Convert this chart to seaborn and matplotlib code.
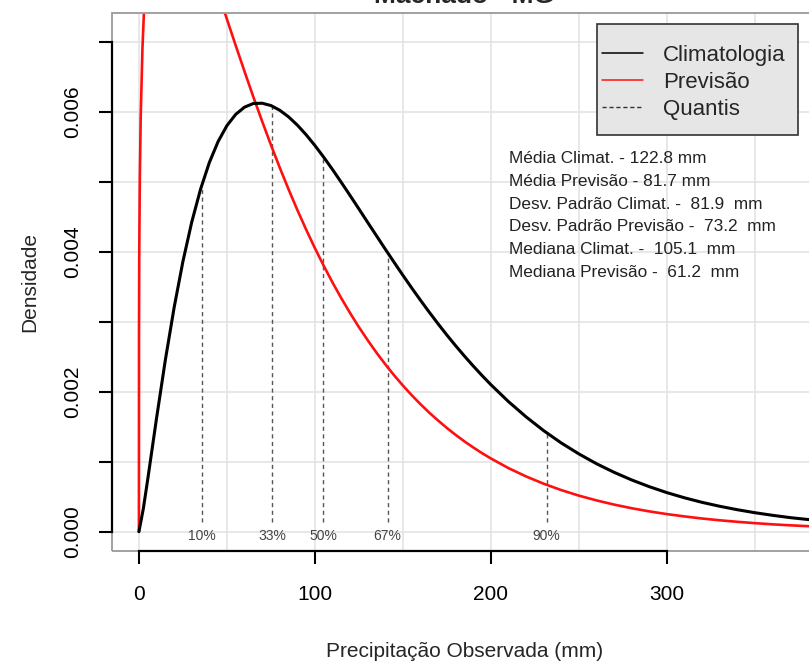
import pandas as pd
import seaborn as sns
import matplotlib.pyplot as plt
from matplotlib.lines import Line2D
from matplotlib.patches import Rectangle

# --- DADOS ---
titulo = "Machado - MG"

# Climatologia (curva preta)
x_clim = [0, 2.5, 5, 10, 15, 20, 25, 30, 35, 40, 45, 50, 55, 60, 65, 70, 75, 80, 85, 90, 95,
          100, 105, 110, 115, 120, 125, 130, 135, 140, 145, 150, 155, 160, 165, 170, 175,
          180, 185, 190, 195, 200, 210, 220, 230, 240, 250, 260, 270, 280, 290, 300,
          310, 320, 330, 340, 350, 360, 370, 385]
dens_clim = [0.0, 0.000329, 0.000747, 0.001619, 0.002451, 0.003202, 0.003861, 0.004422, 0.004891,
             0.005273, 0.005574, 0.005801, 0.005962, 0.006065, 0.006117, 0.006121, 0.006088,
             0.006021, 0.005927, 0.005809, 0.005671,
             0.005517, 0.005350, 0.005174, 0.004990, 0.004802, 0.004611, 0.004418, 0.004227,
             0.004036, 0.003848, 0.003663, 0.003482, 0.003306, 0.003135, 0.002969, 0.002809,
             0.002655, 0.002508, 0.002366, 0.002230, 0.002100, 0.001858, 0.001640, 0.001443,
             0.001267, 0.001111, 0.000971, 0.000848, 0.000739, 0.000643, 0.000558,
             0.000484, 0.000419, 0.000363, 0.000314, 0.000271, 0.000234, 0.000201, 0.000161]

# Previsão (curva vermelha)
x_prev = [0, 0.05, 0.2, 0.5, 1, 2, 3, 5, 10, 15, 20, 30, 40, 45, 50, 55, 60, 65, 70, 75,
          80, 85, 90, 95, 100, 105, 110, 115, 120, 125, 130, 135, 140, 145, 150, 155,
          160, 165, 170, 175, 180, 185, 190, 195, 200, 210, 220, 230, 240, 250, 260,
          270, 280, 290, 300, 310, 320, 330, 340, 350, 360, 370, 385]
dens_prev = [0.0, 0.002875, 0.004032, 0.005027, 0.005913, 0.006904, 0.007512, 0.008260, 0.009072,
             0.009288, 0.009235, 0.008760, 0.008072, 0.007699, 0.007322, 0.006945, 0.006575,
             0.006212, 0.005864, 0.005526,
             0.005202, 0.004893, 0.004597, 0.004317, 0.004050, 0.003799, 0.003560, 0.003335,
             0.003123, 0.002922, 0.002735, 0.002557, 0.002391, 0.002234, 0.002088, 0.001950,
             0.001821, 0.001700, 0.001588, 0.001481, 0.001382, 0.001289, 0.001203, 0.001121,
             0.001046, 0.000908, 0.000789, 0.000685, 0.000594, 0.000515, 0.000447,
             0.000387, 0.000335, 0.000290, 0.000251, 0.000218, 0.000188, 0.000163, 0.000141,
             0.000122, 0.000105, 0.0000910, 0.0000731]

# Quantis da climatologia
quantis_rotulo = ["10%", "33%", "50%", "67%", "90%"]
quantis_mm = [35.6, 75.7, 104.8, 141.3, 231.6]
quantis_dens = [0.00492, 0.00607, 0.00535, 0.00398, 0.00143]

estatisticas = [
    "Média Climat. - 122.8 mm",
    "Média Previsão - 81.7 mm",
    "Desv. Padrão Climat. -  81.9  mm",
    "Desv. Padrão Previsão -  73.2  mm",
    "Mediana Climat. -  105.1  mm",
    "Mediana Previsão -  61.2  mm",
]

y_ticks = [0.000, 0.001, 0.002, 0.003, 0.004, 0.005, 0.006, 0.007]
y_ticklabels = ["0.000", "", "0.002", "", "0.004", "", "0.006", ""]
x_ticks = [0, 100, 200, 300]

# --- ESTILO ---
sns.set_style("white")
plt.rcParams['font.family'] = ['Liberation Sans', 'DejaVu Sans']

df_clim = pd.DataFrame({'x': x_clim, 'dens': dens_clim})
df_prev = pd.DataFrame({'x': x_prev, 'dens': dens_prev})

W, H = 809, 664
fig = plt.figure(figsize=(W / 100, H / 100), dpi=100)
# eixo vai além da borda direita (imagem recortada)
ax = fig.add_axes([112 / W, 113 / H, 705 / W, 538 / H])
ax.set_xlim(-15.3, 385.3)
ax.set_ylim(-0.000276, 0.00741)

# grade
for gx in range(0, 401, 50):
    ax.axvline(gx, color='#e2e2e2', lw=1.1, zorder=0)
for gy in y_ticks:
    ax.axhline(gy, color='#e2e2e2', lw=1.1, zorder=0)

# curvas
sns.lineplot(data=df_clim, x='x', y='dens', color='black', lw=2.2, ax=ax, zorder=3)
sns.lineplot(data=df_prev, x='x', y='dens', color='#ff1010', lw=1.9, ax=ax, zorder=2)

# quantis
ax.vlines(quantis_mm, 0.00014, quantis_dens, colors='#555555',
          linestyles=(0, (3, 2.5)), lw=1.0, zorder=1)
for q, rot in zip(quantis_mm, quantis_rotulo):
    ax.text(q, -0.00006, rot, ha='center', va='center', fontsize=10, color='#444444')

# estatísticas
y0 = 0.005333
for i, linha in enumerate(estatisticas):
    ax.text(210.2, y0 - i * 0.000326, linha, ha='left', va='center',
            fontsize=12.4, color='#222222')

# caixa e eixos estilo R
ax.add_patch(Rectangle((0, 0), 1, 1, transform=ax.transAxes, fill=False,
                       edgecolor='#9a9a9a', lw=1.3, clip_on=False, zorder=4))
for lado in ['top', 'right']:
    ax.spines[lado].set_visible(False)
ax.spines['left'].set_bounds(0, 0.007)
ax.spines['bottom'].set_bounds(0, 300)
for lado in ['left', 'bottom']:
    ax.spines[lado].set_color('black')
    ax.spines[lado].set_linewidth(1.6)
    ax.spines[lado].set_zorder(5)

ax.set_xticks(x_ticks)
ax.set_xticklabels([str(t) for t in x_ticks])
ax.set_yticks(y_ticks)
ax.set_yticklabels(y_ticklabels, rotation=90, va='center')
ax.tick_params(axis='both', direction='out', length=9.5, width=1.5, colors='black',
               labelsize=15, left=True, bottom=True)
ax.tick_params(axis='x', pad=15)
ax.tick_params(axis='y', pad=12)

ax.set_xlabel('Precipitação Observada (mm)', fontsize=15, va='center')
ax.xaxis.set_label_coords(0.5, -0.1877)
ax.set_ylabel('Densidade', fontsize=15, va='center')
ax.yaxis.set_label_coords(-0.1163, 0.5)

fig.text(464.5 / W, 1 - 3 / H, titulo, ha='center', va='baseline',
         fontsize=19, fontweight='bold')

# legenda: moldura desenhada à parte (margens como no R)
fig.add_artist(Rectangle((597 / W, 1 - 135 / H), 201 / W, 111 / H,
                         transform=fig.transFigure, facecolor='#e6e6e6',
                         edgecolor='#333333', lw=1.2, zorder=5))
handles = [Line2D([], [], color='black', lw=1.1),
           Line2D([], [], color='#ff1010', lw=1.1),
           Line2D([], [], color='#333333', lw=1.0, linestyle=(0, (3, 2)))]
leg = fig.legend(handles, ['Climatologia', 'Previsão', 'Quantis'],
                 loc='upper left', bbox_to_anchor=(602 / W, 1 - 44.5 / H),
                 bbox_transform=fig.transFigure, borderaxespad=0, borderpad=0,
                 fontsize=16, frameon=False, handlelength=1.85, handletextpad=0.9,
                 labelspacing=0.28)
leg.set_zorder(6)

fig.savefig('out.png', dpi=100)
